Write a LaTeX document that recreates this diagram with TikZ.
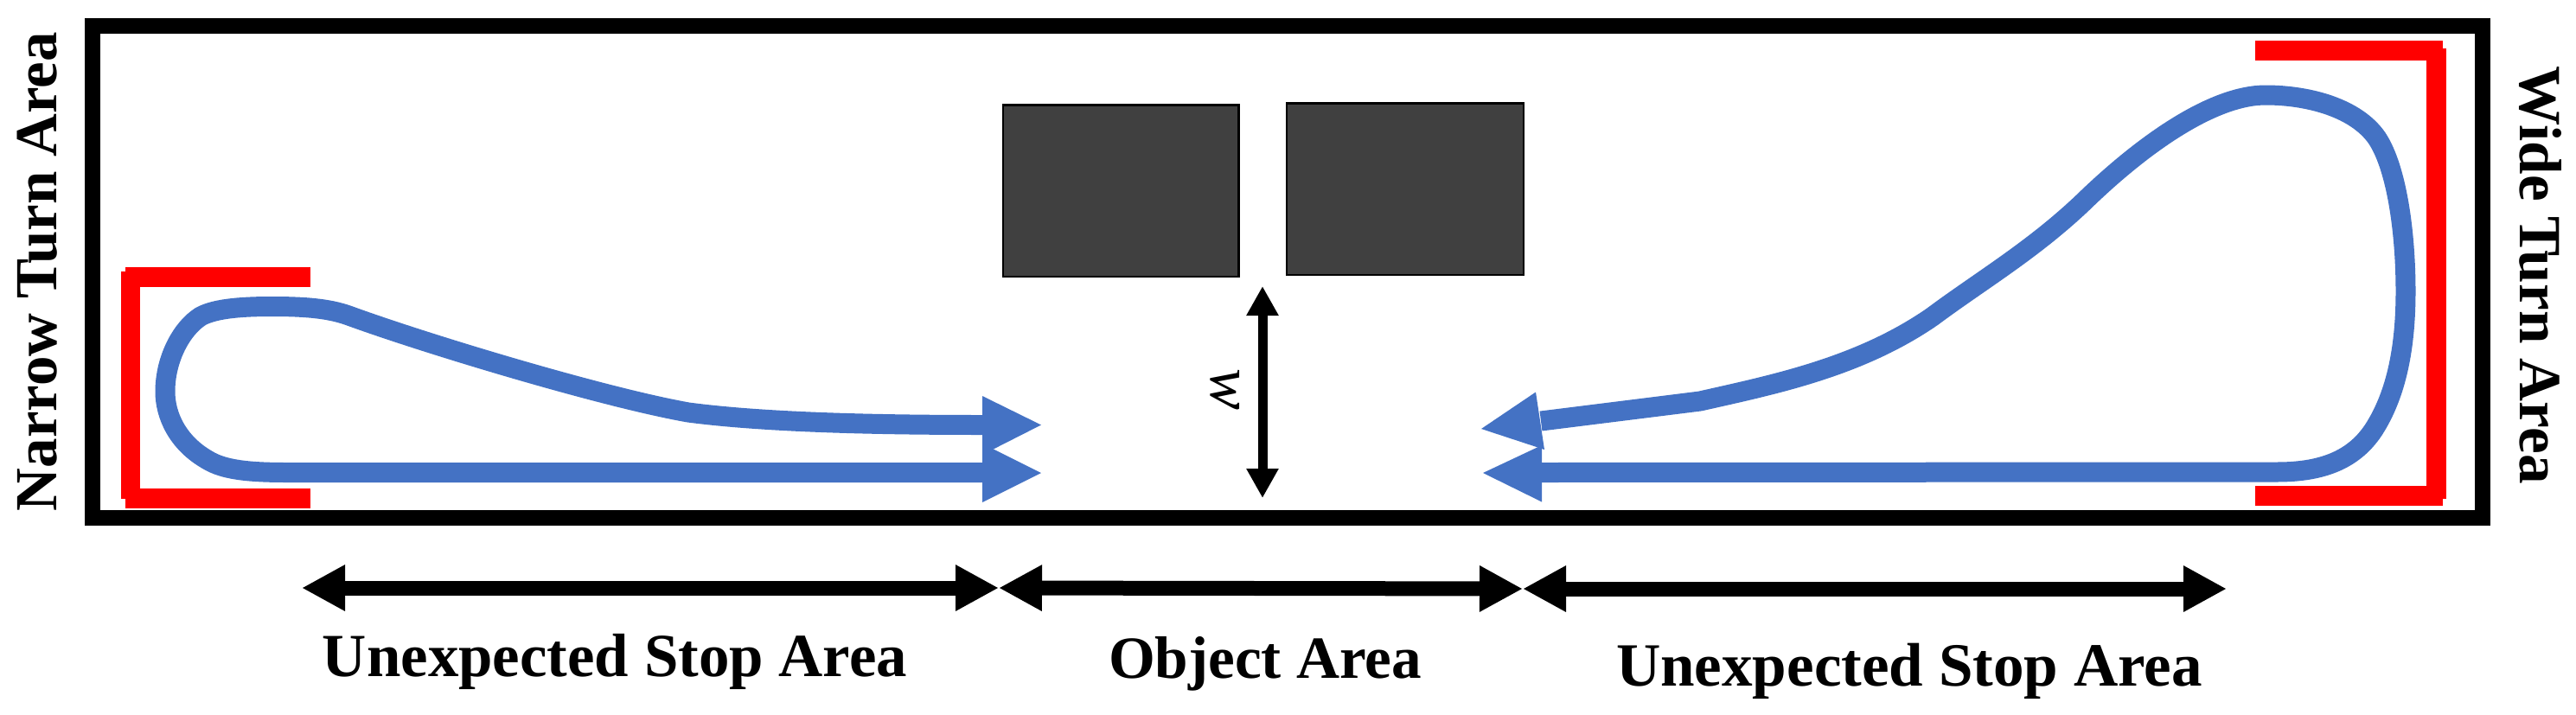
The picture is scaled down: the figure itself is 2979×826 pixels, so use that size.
\documentclass[tikz,border=0pt]{standalone}
\usepackage{fontspec}
\usepackage{graphicx}
\setmainfont{Liberation Serif}
\usetikzlibrary{arrows.meta}
\definecolor{pathblue}{HTML}{4472C4}
\definecolor{objgray}{HTML}{404040}
\tikzset{
  framebox/.style={draw=black,line width=9pt},
  redbar/.style={fill=red,draw=none},
  objbox/.style={fill=objgray,draw=black,line width=1.2pt},
  bluepath/.style={draw=pathblue,line width=11.5pt,line join=round},
  bluehead/.style={fill=pathblue,draw=none},
  measure/.style={draw=black,line width=8.5pt,{Triangle[length=25pt,width=25pt]}-{Triangle[length=25pt,width=25pt]}},
  warrow/.style={draw=black,line width=5.5pt,{Triangle[length=17pt,width=17.5pt]}-{Triangle[length=17pt,width=17.5pt]}},
  lab/.style={inner sep=0pt,anchor=base,font=\bfseries\fontsize{34pt}{36pt}\selectfont}
}
\begin{document}
\begin{tikzpicture}[x=0.5pt,y=-0.5pt]
\useasboundingbox (0,0) rectangle (2979,826);
\fill[white] (0,0) rectangle (2979,826);
% frame
\draw[framebox] (107,29.8) rectangle (2870.5,599);
% objects
\draw[objbox] (1160,121.5) rectangle (1432.5,320);
\draw[objbox] (1488,119.5) rectangle (1762,318);
% red brackets
\fill[redbar] (139.5,313.5) rectangle (161.7,577);
\fill[redbar] (145,309) rectangle (359,332);
\fill[redbar] (145,565) rectangle (359,588);
\fill[redbar] (2806,56) rectangle (2829,577);
\fill[redbar] (2608,47) rectangle (2825,70);
\fill[redbar] (2608,562) rectangle (2825,585);
% blue paths
\draw[bluepath] (1136,546.5) -- (332,546.5)
  .. controls (285,546.5) and (258,543) .. (240,532)
  .. controls (205,512) and (191,480) .. (191,453)
  .. controls (191,415) and (210,380) .. (232,366)
  .. controls (250,356) and (285,354.5) .. (315,354.5)
  .. controls (360,354.5) and (385,358) .. (406,366)
  .. controls (500,400) and (700,460) .. (796,477)
  .. controls (880,488) and (1000,491.5) .. (1136,491.5);
\fill[bluehead] (1136,458) -- (1204,491.5) -- (1136,526) -- cycle;
\fill[bluehead] (1136,513) -- (1204,547) -- (1136,581) -- cycle;
\draw[bluepath] (1783,546.5) -- (2633,546)
  .. controls (2680,546) and (2720,535) .. (2745,497)
  .. controls (2772,455) and (2782,400) .. (2782,337)
  .. controls (2782,270) and (2772,195) .. (2749,160)
  .. controls (2725,125) and (2670,110) .. (2620,110)
  .. controls (2560,110) and (2480,165) .. (2409,234)
  .. controls (2350,290) and (2290,325) .. (2235,366)
  .. controls (2150,425) and (2050,445) .. (1966,464)
  -- (1782,487);
\fill[bluehead] (1776,453.5) -- (1713,496) -- (1786,520) -- cycle;
\fill[bluehead] (1783,515) -- (1715,547) -- (1783,580.5) -- cycle;
% width arrow
\coordinate (wtop) at (1460,331);
\coordinate (wbot) at (1460,576);
\draw[warrow] (wtop) -- (wbot);
\node[inner sep=0pt,rotate=-90,anchor=base,font=\itshape\fontsize{36pt}{38pt}\selectfont] (wlabel) at (1400,451) {w};
% measure arrows
\coordinate (m0) at (349,680);
\coordinate (m1) at (1155,680);
\coordinate (m2) at (1761,681);
\coordinate (m3) at (2575,681);
\draw[measure] (m0) -- (m1);
\draw[measure] (m1) -- (m2);
\draw[measure] (m2) -- (m3);
% labels
\node[lab] (stopl) at (711,782) {\resizebox{338pt}{!}{Unexpected Stop Area}};
\node[lab] (objl) at (1463,784) {\resizebox{181pt}{!}{Object Area}};
\node[lab] (stopr) at (2208,793) {\resizebox{339pt}{!}{Unexpected Stop Area}};
\node[lab,rotate=90] (narrow) at (65,314) {\resizebox{277pt}{!}{Narrow Turn Area}};
\node[lab,rotate=-90] (wide) at (2914,318) {\resizebox{241.5pt}{!}{Wide Turn Area}};
\end{tikzpicture}
\end{document}
